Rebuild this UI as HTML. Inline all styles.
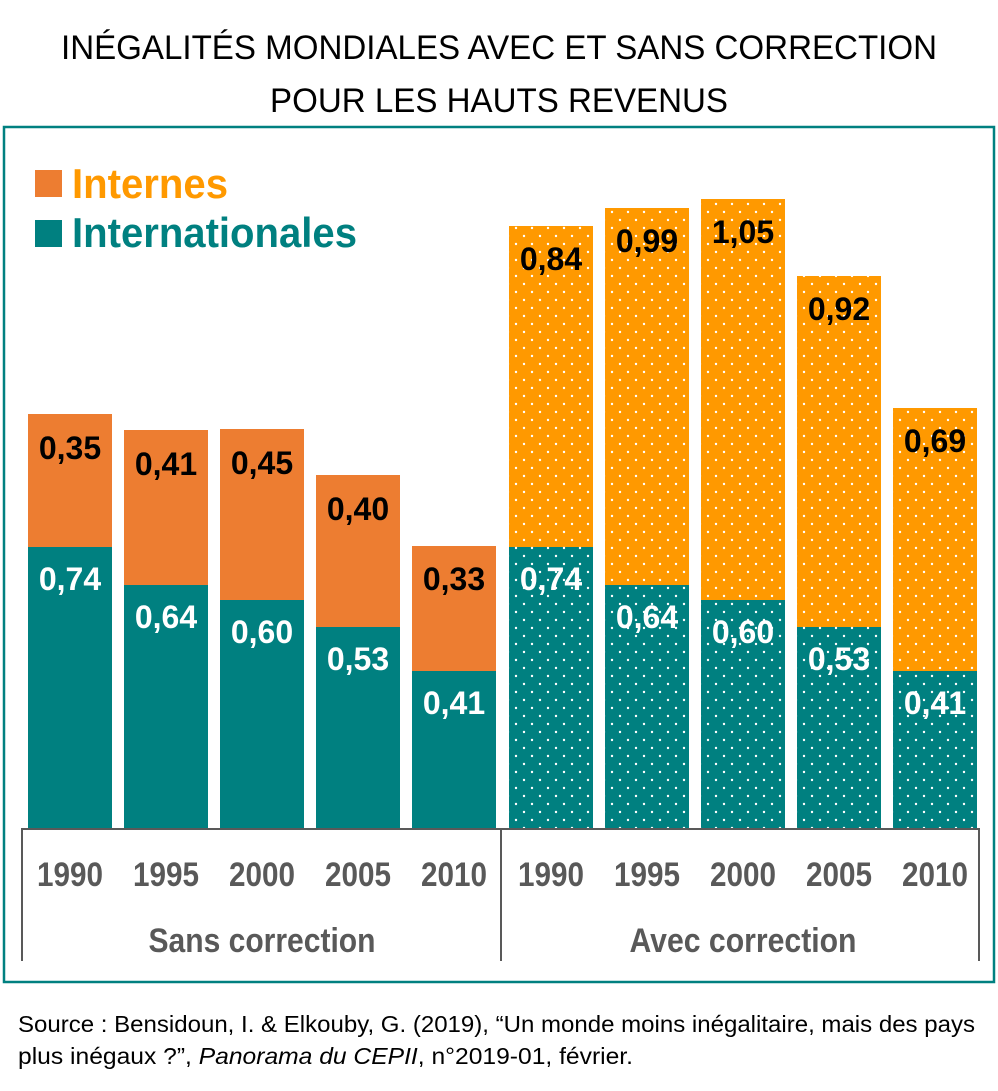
<!DOCTYPE html>
<html><head><meta charset="utf-8"><style>
html,body{margin:0;padding:0;background:#fff;}
svg{display:block;}
.n{font-family:"Liberation Sans Narrow","Liberation Sans",sans-serif;}
</style></head><body>
<svg width="998" height="1091" viewBox="0 0 998 1091" xmlns="http://www.w3.org/2000/svg">
<defs>
<pattern id="dots" width="16" height="16" patternUnits="userSpaceOnUse">
<circle cx="4" cy="4" r="1.2" fill="#fff"/>
<circle cx="12" cy="12" r="1.2" fill="#fff"/>
</pattern>
</defs>
<g class="n" font-size="34" fill="#000" text-anchor="middle">
<text x="499" y="59" textLength="876" lengthAdjust="spacingAndGlyphs">INÉGALITÉS MONDIALES AVEC ET SANS CORRECTION</text>
<text x="499" y="112" textLength="458" lengthAdjust="spacingAndGlyphs">POUR LES HAUTS REVENUS</text>
</g>
<rect x="4" y="127" width="990" height="855" fill="none" stroke="#008080" stroke-width="2.5"/>
<rect x="35" y="170" width="27" height="27" fill="#ED7D31"/>
<rect x="35" y="220" width="27" height="27" fill="#008080"/>
<g class="n" font-size="42" font-weight="bold">
<text x="72" y="198" fill="#FF9900" textLength="156" lengthAdjust="spacingAndGlyphs">Internes</text>
<text x="72" y="247" fill="#008080" textLength="285" lengthAdjust="spacingAndGlyphs">Internationales</text>
</g>
<g>
<rect x="28" y="414" width="84" height="133" fill="#ED7D31"/><rect x="28" y="547" width="84" height="281" fill="#008080"/>
<rect x="124" y="430" width="84" height="155" fill="#ED7D31"/><rect x="124" y="585" width="84" height="243" fill="#008080"/>
<rect x="220" y="429" width="84" height="171" fill="#ED7D31"/><rect x="220" y="600" width="84" height="228" fill="#008080"/>
<rect x="316" y="475" width="84" height="152" fill="#ED7D31"/><rect x="316" y="627" width="84" height="201" fill="#008080"/>
<rect x="412" y="546" width="84" height="125" fill="#ED7D31"/><rect x="412" y="671" width="84" height="157" fill="#008080"/>
</g>
<g>
<rect x="509" y="226" width="84" height="321" fill="#FF9900"/><rect x="509" y="547" width="84" height="281" fill="#008080"/>
<rect x="605" y="208" width="84" height="377" fill="#FF9900"/><rect x="605" y="585" width="84" height="243" fill="#008080"/>
<rect x="701" y="199" width="84" height="401" fill="#FF9900"/><rect x="701" y="600" width="84" height="228" fill="#008080"/>
<rect x="797" y="276" width="84" height="351" fill="#FF9900"/><rect x="797" y="627" width="84" height="201" fill="#008080"/>
<rect x="893" y="408" width="84" height="263" fill="#FF9900"/><rect x="893" y="671" width="84" height="157" fill="#008080"/>
<rect x="509" y="226" width="84" height="602" fill="url(#dots)"/>
<rect x="605" y="208" width="84" height="620" fill="url(#dots)"/>
<rect x="701" y="199" width="84" height="629" fill="url(#dots)"/>
<rect x="797" y="276" width="84" height="552" fill="url(#dots)"/>
<rect x="893" y="408" width="84" height="420" fill="url(#dots)"/>
</g>
<g class="n" font-size="32" font-weight="bold" text-anchor="middle">
<g fill="#000">
<text x="70" y="459">0,35</text><text x="166" y="475">0,41</text><text x="262" y="474">0,45</text><text x="358" y="520">0,40</text><text x="454" y="590">0,33</text>
<text x="551" y="270">0,84</text><text x="647" y="252">0,99</text><text x="743" y="243">1,05</text><text x="839" y="320">0,92</text><text x="935" y="452">0,69</text>
</g>
<g fill="#fff">
<text x="70" y="590">0,74</text><text x="166" y="628">0,64</text><text x="262" y="643">0,60</text><text x="358" y="670">0,53</text><text x="454" y="714">0,41</text>
<text x="551" y="590">0,74</text><text x="647" y="628">0,64</text><text x="743" y="643">0,60</text><text x="839" y="670">0,53</text><text x="935" y="714">0,41</text>
</g>
</g>
<g stroke="#595959" stroke-width="2" fill="none">
<line x1="21" y1="829" x2="979" y2="829"/>
<line x1="22" y1="828" x2="22" y2="961"/>
<line x1="501" y1="828" x2="501" y2="961"/>
<line x1="979" y1="828" x2="979" y2="961"/>
</g>
<g class="n" font-size="34" font-weight="bold" fill="#595959" text-anchor="middle">
<g textLength="66" lengthAdjust="spacingAndGlyphs">
<text x="70" y="886" textLength="66" lengthAdjust="spacingAndGlyphs">1990</text><text x="166" y="886" textLength="66" lengthAdjust="spacingAndGlyphs">1995</text><text x="262" y="886" textLength="66" lengthAdjust="spacingAndGlyphs">2000</text><text x="358" y="886" textLength="66" lengthAdjust="spacingAndGlyphs">2005</text><text x="454" y="886" textLength="66" lengthAdjust="spacingAndGlyphs">2010</text>
<text x="551" y="886" textLength="66" lengthAdjust="spacingAndGlyphs">1990</text><text x="647" y="886" textLength="66" lengthAdjust="spacingAndGlyphs">1995</text><text x="743" y="886" textLength="66" lengthAdjust="spacingAndGlyphs">2000</text><text x="839" y="886" textLength="66" lengthAdjust="spacingAndGlyphs">2005</text><text x="935" y="886" textLength="66" lengthAdjust="spacingAndGlyphs">2010</text>
</g>
<text x="262" y="952" textLength="227" lengthAdjust="spacingAndGlyphs">Sans correction</text><text x="743" y="952" textLength="227" lengthAdjust="spacingAndGlyphs">Avec correction</text>
</g>
<g font-family="Liberation Sans, sans-serif" font-size="23" fill="#000">
<text x="18" y="1032" textLength="957" lengthAdjust="spacingAndGlyphs">Source : Bensidoun, I. &amp; Elkouby, G. (2019), “Un monde moins inégalitaire, mais des pays</text>
<text x="18" y="1064" textLength="615" lengthAdjust="spacingAndGlyphs">plus inégaux ?”, <tspan font-style="italic">Panorama du CEPII</tspan>, n°2019-01, février.</text>
</g>
</svg>
</body></html>
